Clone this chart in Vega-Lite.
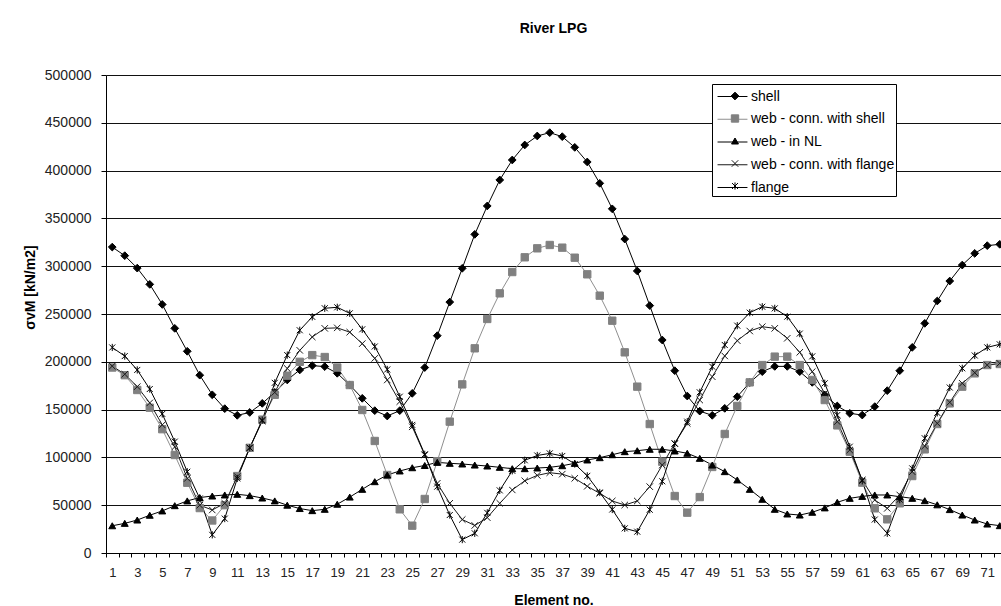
{
  "$schema": "https://vega.github.io/schema/vega-lite/v6.json",
  "width": 895,
  "height": 478,
  "autosize": {"type": "none"},
  "padding": {"left": 106, "top": 75, "right": 0, "bottom": 53},
  "background": "white",
  "config": {"font": "Liberation Sans", "view": {"stroke": null}},
  "title": {"text": "River LPG", "fontSize": 14, "fontWeight": "bold", "color": "black", "anchor": "middle", "offset": 32},
  "data": {"values": [
    {"n":1,"shell":320000,"wcs":194000,"nl":28500,"wcf":195500,"fl":215000},
    {"n":2,"shell":311000,"wcs":186000,"nl":31000,"wcf":187000,"fl":206000},
    {"n":3,"shell":298000,"wcs":170500,"nl":34500,"wcf":174000,"fl":191500},
    {"n":4,"shell":281000,"wcs":152000,"nl":39500,"wcf":157000,"fl":171500},
    {"n":5,"shell":260000,"wcs":129500,"nl":44000,"wcf":134000,"fl":145500},
    {"n":6,"shell":235000,"wcs":102500,"nl":49500,"wcf":111000,"fl":116500},
    {"n":7,"shell":211000,"wcs":73500,"nl":54500,"wcf":78000,"fl":85000},
    {"n":8,"shell":186000,"wcs":47000,"nl":58000,"wcf":50000,"fl":57000},
    {"n":9,"shell":165500,"wcs":34000,"nl":59600,"wcf":45000,"fl":19000},
    {"n":10,"shell":151000,"wcs":50000,"nl":60700,"wcf":52000,"fl":36000},
    {"n":11,"shell":144000,"wcs":80500,"nl":61400,"wcf":80000,"fl":78000},
    {"n":12,"shell":147000,"wcs":110000,"nl":60000,"wcf":110000,"fl":110000},
    {"n":13,"shell":156500,"wcs":139500,"nl":57500,"wcf":138000,"fl":139000},
    {"n":14,"shell":168000,"wcs":165500,"nl":54500,"wcf":168000,"fl":178000},
    {"n":15,"shell":181000,"wcs":185500,"nl":50000,"wcf":193000,"fl":207000},
    {"n":16,"shell":191500,"wcs":200000,"nl":46500,"wcf":212000,"fl":233000},
    {"n":17,"shell":196000,"wcs":207000,"nl":44300,"wcf":226000,"fl":247000},
    {"n":18,"shell":195000,"wcs":205000,"nl":45700,"wcf":235000,"fl":256000},
    {"n":19,"shell":188000,"wcs":194000,"nl":51000,"wcf":235500,"fl":257000},
    {"n":20,"shell":175700,"wcs":175700,"nl":58500,"wcf":231000,"fl":250700},
    {"n":21,"shell":161800,"wcs":149600,"nl":66600,"wcf":219000,"fl":234000},
    {"n":22,"shell":148900,"wcs":117200,"nl":74600,"wcf":203600,"fl":216000},
    {"n":23,"shell":143300,"wcs":81600,"nl":81600,"wcf":181000,"fl":192000},
    {"n":24,"shell":148900,"wcs":45700,"nl":85800,"wcf":158300,"fl":163500},
    {"n":25,"shell":167000,"wcs":28600,"nl":89200,"wcf":132000,"fl":134000},
    {"n":26,"shell":194000,"wcs":56500,"nl":91500,"wcf":102500,"fl":103200},
    {"n":27,"shell":227300,"wcs":96000,"nl":94800,"wcf":72900,"fl":69400},
    {"n":28,"shell":262500,"wcs":137400,"nl":93800,"wcf":52000,"fl":39700},
    {"n":29,"shell":297800,"wcs":176400,"nl":93100,"wcf":35000,"fl":14000},
    {"n":30,"shell":333300,"wcs":214100,"nl":92000,"wcf":28800,"fl":20600},
    {"n":31,"shell":363000,"wcs":244800,"nl":91000,"wcf":37000,"fl":42000},
    {"n":32,"shell":390200,"wcs":271600,"nl":89600,"wcf":52000,"fl":65500},
    {"n":33,"shell":411100,"wcs":293900,"nl":88200,"wcf":66000,"fl":86000},
    {"n":34,"shell":426800,"wcs":309300,"nl":88200,"wcf":75500,"fl":97000},
    {"n":35,"shell":436200,"wcs":318700,"nl":88900,"wcf":81200,"fl":102000},
    {"n":36,"shell":439700,"wcs":322200,"nl":89600,"wcf":84000,"fl":104200},
    {"n":37,"shell":435500,"wcs":319400,"nl":91300,"wcf":82500,"fl":101500},
    {"n":38,"shell":424300,"wcs":308900,"nl":93800,"wcf":78100,"fl":93100},
    {"n":39,"shell":409000,"wcs":291500,"nl":97300,"wcf":69800,"fl":80700},
    {"n":40,"shell":386700,"wcs":269200,"nl":99700,"wcf":62400,"fl":63300},
    {"n":41,"shell":360000,"wcs":243000,"nl":102800,"wcf":54400,"fl":45500},
    {"n":42,"shell":328400,"wcs":209900,"nl":106000,"wcf":50200,"fl":25800},
    {"n":43,"shell":295000,"wcs":174000,"nl":107000,"wcf":54400,"fl":22300},
    {"n":44,"shell":258800,"wcs":134900,"nl":108500,"wcf":69400,"fl":45300},
    {"n":45,"shell":222800,"wcs":95500,"nl":108500,"wcf":92000,"fl":75000},
    {"n":46,"shell":190700,"wcs":59600,"nl":106700,"wcf":114700,"fl":114300},
    {"n":47,"shell":164200,"wcs":42200,"nl":104300,"wcf":135600,"fl":137400},
    {"n":48,"shell":148400,"wcs":58500,"nl":99000,"wcf":160000,"fl":168100},
    {"n":49,"shell":144000,"wcs":90000,"nl":92000,"wcf":184400,"fl":194900},
    {"n":50,"shell":151300,"wcs":124500,"nl":85100,"wcf":206100,"fl":217600},
    {"n":51,"shell":163500,"wcs":153800,"nl":76400,"wcf":222100,"fl":237800},
    {"n":52,"shell":178300,"wcs":178500,"nl":66600,"wcf":232200,"fl":251400},
    {"n":53,"shell":189700,"wcs":196600,"nl":56200,"wcf":236700,"fl":257600},
    {"n":54,"shell":195200,"wcs":205400,"nl":45700,"wcf":235000,"fl":255900},
    {"n":55,"shell":195200,"wcs":205400,"nl":40800,"wcf":224600,"fl":247200},
    {"n":56,"shell":189700,"wcs":196600,"nl":39700,"wcf":209900,"fl":229500},
    {"n":57,"shell":178500,"wcs":181000,"nl":42600,"wcf":189700,"fl":205700},
    {"n":58,"shell":165300,"wcs":160000,"nl":47200,"wcf":167000,"fl":177500},
    {"n":59,"shell":153800,"wcs":133500,"nl":53000,"wcf":137400,"fl":144300},
    {"n":60,"shell":146100,"wcs":106000,"nl":57200,"wcf":107700,"fl":111200},
    {"n":61,"shell":144300,"wcs":73600,"nl":59200,"wcf":76400,"fl":75500},
    {"n":62,"shell":153100,"wcs":46700,"nl":60700,"wcf":55400,"fl":35000},
    {"n":63,"shell":169800,"wcs":35200,"nl":60700,"wcf":46700,"fl":20600},
    {"n":64,"shell":190700,"wcs":52000,"nl":58900,"wcf":60700,"fl":55800},
    {"n":65,"shell":215100,"wcs":80500,"nl":57200,"wcf":85000,"fl":88500},
    {"n":66,"shell":240200,"wcs":108400,"nl":54700,"wcf":111900,"fl":120000},
    {"n":67,"shell":263600,"wcs":134900,"nl":50400,"wcf":135600,"fl":146600},
    {"n":68,"shell":284500,"wcs":156500,"nl":45400,"wcf":157600,"fl":173100},
    {"n":69,"shell":301200,"wcs":174000,"nl":39700,"wcf":177500,"fl":193200},
    {"n":70,"shell":313400,"wcs":187900,"nl":34500,"wcf":188600,"fl":206600},
    {"n":71,"shell":321500,"wcs":196600,"nl":30300,"wcf":196600,"fl":215100},
    {"n":72,"shell":322900,"wcs":197700,"nl":28600,"wcf":198400,"fl":218300}
  ]},
  "transform": [{"fold": ["shell", "wcs", "nl", "wcf", "fl"], "as": ["key", "v"]}],
  "encoding": {
    "x": {
      "field": "n", "type": "quantitative",
      "scale": {"domain": [0.5, 72.1], "nice": false, "zero": false},
      "axis": {
        "values": [0.5,1.5,2.5,3.5,4.5,5.5,6.5,7.5,8.5,9.5,10.5,11.5,12.5,13.5,14.5,15.5,16.5,17.5,18.5,19.5,20.5,21.5,22.5,23.5,24.5,25.5,26.5,27.5,28.5,29.5,30.5,31.5,32.5,33.5,34.5,35.5,36.5,37.5,38.5,39.5,40.5,41.5,42.5,43.5,44.5,45.5,46.5,47.5,48.5,49.5,50.5,51.5,52.5,53.5,54.5,55.5,56.5,57.5,58.5,59.5,60.5,61.5,62.5,63.5,64.5,65.5,66.5,67.5,68.5,69.5,70.5,71.5],
        "labelExpr": "(datum.value + 0.5) % 2 == 1 ? format(datum.value + 0.5, 'd') : ''",
        "labelOffset": 6.25,
        "labelFlush": false,
        "labelOverlap": false,
        "labelBound": false,
        "labelFontSize": 13,
        "labelColor": "#222222",
        "labelPadding": 9,
        "grid": false,
        "tickSize": 4,
        "tickColor": "black",
        "domainColor": "black",
        "title": "Element no.",
        "titleFontSize": 14,
        "titleFontWeight": "bold",
        "titleColor": "black",
        "titleY": 47,
        "titleBaseline": "middle"
      }
    },
    "y": {
      "field": "v", "type": "quantitative",
      "scale": {"domain": [0, 500000], "nice": false},
      "axis": {
        "values": [0,50000,100000,150000,200000,250000,300000,350000,400000,450000,500000],
        "format": "d",
        "grid": true,
        "gridColor": "#111111",
        "gridWidth": 1,
        "gridOpacity": 1,
        "tickSize": 5,
        "tickColor": "black",
        "domainColor": "black",
        "labelFontSize": 14,
        "labelColor": "#222222",
        "labelPadding": 10,
        "title": "σvM [kN/m2]",
        "titleFontSize": 14,
        "titleFontWeight": "bold",
        "titleColor": "black",
        "titleAngle": 270,
        "titleX": -76,
        "titleY": 212,
        "titleAlign": "center",
        "titleBaseline": "middle"
      }
    }
  },
  "layer": [
    {
      "mark": {"type": "line", "strokeWidth": 1},
      "encoding": {
        "color": {
          "field": "key", "type": "nominal",
          "scale": {"domain": ["shell", "wcs", "nl", "wcf", "fl", "zz"], "range": ["#000000", "#8f8f8f", "#000000", "#1a1a1a", "#000000", "#000000"]},
          "legend": {
            "values": ["shell", "wcs", "nl", "wcf", "fl"],
            "orient": "none",
            "legendX": 606,
            "legendY": 9,
            "title": null,
            "direction": "vertical",
            "padding": 1,
            "rowPadding": 3.75,
            "symbolType": "M-1.36,0H1.36",
            "symbolSize": 484,
            "symbolStrokeWidth": 1,
            "symbolOffset": 8,
            "labelOffset": 7,
            "labelFontSize": 14,
            "labelColor": "black",
            "labelLimit": 300,
            "strokeColor": "black",
            "fillColor": "white",
            "labelExpr": "datum.value == 'shell' ? 'shell' : datum.value == 'wcs' ? 'web - conn. with shell' : datum.value == 'nl' ? 'web - in NL' : datum.value == 'wcf' ? 'web - conn. with flange' : 'flange'"
          }
        }
      }
    },
    {
      "mark": {"type": "point", "filled": true, "strokeWidth": 1, "opacity": 1},
      "encoding": {
        "shape": {
          "field": "key", "type": "nominal",
          "scale": {"domain": ["shell", "wcs", "nl", "wcf", "fl"], "range": ["diamond", "square", "triangle-up", "M-1,-1L1,1M-1,1L1,-1", "M-1,-1L1,1M-1,1L1,-1M0,-1.2V1.2"]},
          "legend": {
            "orient": "none", "legendX": 606, "legendY": 10, "title": null, "direction": "vertical",
            "padding": 4, "rowPadding": 8.5, "symbolOffset": 12, "symbolStrokeWidth": 1,
            "labelOffset": 3, "labelFontSize": 14, "labelColor": "transparent", "labelLimit": 300,
            "strokeColor": "transparent", "fillColor": "transparent", "symbolOpacity": 1,
            "labelExpr": "' '"
          }
        },
        "size": {
          "field": "key", "type": "nominal",
          "scale": {"domain": ["shell", "wcs", "nl", "wcf", "fl"], "range": [60, 36, 64, 42, 42]},
          "legend": {
            "orient": "none", "legendX": 606, "legendY": 10, "title": null, "direction": "vertical",
            "padding": 4, "rowPadding": 8.5, "symbolOffset": 12, "symbolStrokeWidth": 1,
            "labelOffset": 3, "labelFontSize": 14, "labelColor": "transparent", "labelLimit": 300,
            "strokeColor": "transparent", "fillColor": "transparent", "symbolOpacity": 1,
            "labelExpr": "' '"
          }
        },
        "fill": {
          "field": "key", "type": "nominal",
          "scale": {"domain": ["shell", "wcs", "nl", "wcf", "fl"], "range": ["#000000", "#808080", "#000000", "transparent", "transparent"]},
          "legend": {
            "orient": "none", "legendX": 606, "legendY": 10, "title": null, "direction": "vertical",
            "padding": 4, "rowPadding": 8.5, "symbolOffset": 12, "symbolStrokeWidth": 1,
            "labelOffset": 3, "labelFontSize": 14, "labelColor": "transparent", "labelLimit": 300,
            "strokeColor": "transparent", "fillColor": "transparent", "symbolOpacity": 1,
            "labelExpr": "' '"
          }
        },
        "stroke": {
          "field": "key", "type": "nominal",
          "scale": {"domain": ["shell", "wcs", "nl", "wcf", "fl"], "range": ["#000000", "#808080", "#000000", "#1a1a1a", "#000000"]},
          "legend": {
            "orient": "none", "legendX": 606, "legendY": 10, "title": null, "direction": "vertical",
            "padding": 4, "rowPadding": 8.5, "symbolOffset": 12, "symbolStrokeWidth": 1,
            "labelOffset": 3, "labelFontSize": 14, "labelColor": "transparent", "labelLimit": 300,
            "strokeColor": "transparent", "fillColor": "transparent", "symbolOpacity": 1,
            "labelExpr": "' '"
          }
        }
      }
    }
  ]
}
